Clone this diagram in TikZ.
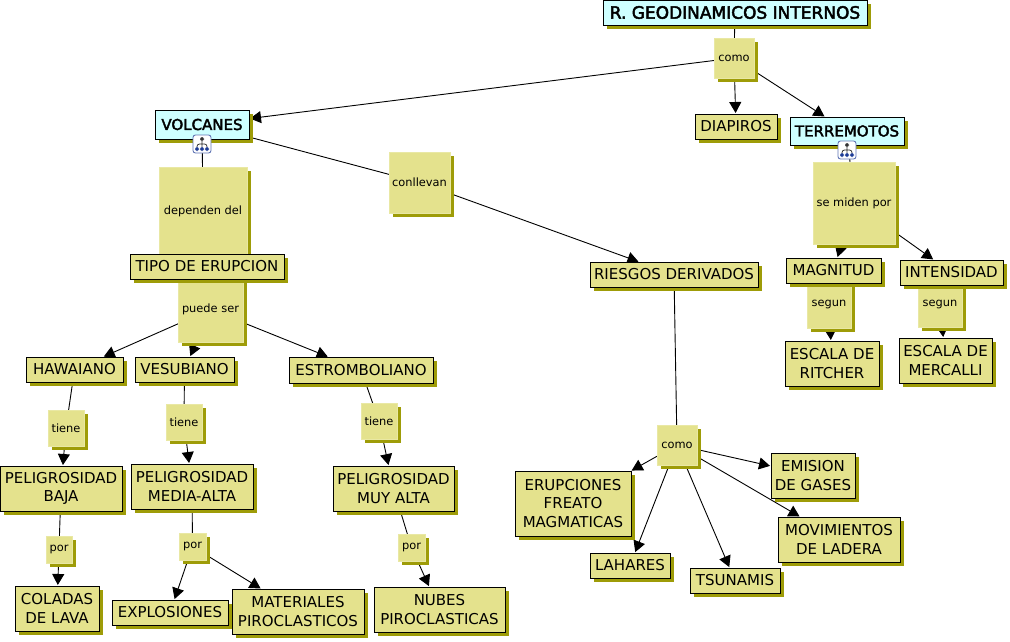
\documentclass[tikz,border=0pt]{standalone}
\usepackage{fontspec}
\setmainfont{DejaVu Sans}
\newfontfamily\heavyfont[FakeBold=2.6]{DejaVu Sans}
\usepackage{xcolor}
\definecolor{cmfill}{RGB}{228,226,141}
\definecolor{cmshade}{RGB}{158,156,8}
\definecolor{cmcyan}{RGB}{206,255,255}
\definecolor{cmicon}{RGB}{30,60,150}
\usetikzlibrary{arrows.meta,positioning,backgrounds,shadows}
\tikzset{
  concept/.style={draw=black,line width=0.9pt,fill=cmfill,align=center,inner sep=0pt,outer sep=0pt,font=\fontsize{15}{18.7}\selectfont,drop shadow={shadow xshift=4pt,shadow yshift=-4pt,fill=cmshade,opacity=1}},
  keyconcept/.style={concept,fill=cmcyan,font=\fontsize{15}{18.7}\heavyfont},
  linkbox/.style={fill=cmfill,draw=cmfill!80!white,line width=0.5pt,align=center,inner sep=0pt,outer sep=0pt,font=\fontsize{11.4}{14}\selectfont,drop shadow={shadow xshift=4pt,shadow yshift=-4pt,fill=cmshade,opacity=1}},
  iconbox/.style={draw=cmicon!70,fill=white,rounded corners=2.5pt,line width=0.9pt,minimum size=18pt,inner sep=0pt,outer sep=0pt,path picture={
    \begin{scope}[shift={(path picture bounding box.center)}]
      \draw[black!80,line width=0.8pt] (0,-3) -- (0,3) (-5,3) -- (-5,0) -- (5,0) -- (5,3);
      \fill[black!80] (-2,-7) rectangle (2,-3);
      \fill[cmicon] (-7,3) rectangle (-3,7) (-2,3) rectangle (2,7) (3,3) rectangle (7,7);
    \end{scope}}},
  link/.style={draw=black,line width=0.9pt,shorten <=4pt},
  flow/.style={link,-{Triangle[length=11pt,width=12pt]},shorten >=1pt},
}
\begin{document}
\begin{tikzpicture}[x=1pt,y=-1pt]
\useasboundingbox (0,0) rectangle (1010,641);
\node[keyconcept,minimum width=264pt,minimum height=25pt,font=\fontsize{17}{20}\heavyfont] (root) at (735,12.5) {R. GEODINAMICOS INTERNOS};
\node[linkbox,minimum size=40pt,below=13pt of root,xshift=-1pt] (como) {como};
\node[concept,minimum width=82pt,minimum height=25pt,below=36pt of como,xshift=2pt] (diapiros) {DIAPIROS};
\node[keyconcept,minimum width=114pt,minimum height=28pt,below right=39pt and 36pt of como] (terremotos) {TERREMOTOS};
\node[iconbox,below=-4pt of terremotos] (terricon) {};
\node[linkbox,minimum size=82pt,below=17pt of terremotos,xshift=7pt] (miden) {se miden por};
\node[linkbox,minimum width=44pt,minimum height=48pt,below=36pt of miden,xshift=-25pt] (segunm) {segun};
\node[concept,minimum width=95pt,minimum height=25pt,above=-3pt of segunm,xshift=4.5pt] (magnitud) {MAGNITUD};
\node[linkbox,minimum width=44pt,minimum height=46pt,right=67pt of segunm] (segunt) {segun};
\node[concept,minimum width=103pt,minimum height=25pt,above=-4pt of segunt,xshift=11.5pt] (intensidad) {INTENSIDAD};
\node[concept,minimum width=94pt,minimum height=45pt,below=13pt of segunm,xshift=3pt] (ritcher) {ESCALA DE\\RITCHER};
\node[concept,minimum width=93pt,minimum height=45pt,below=11pt of segunt,xshift=5.5pt] (mercalli) {ESCALA DE\\MERCALLI};
\node[keyconcept,minimum width=94pt,minimum height=29pt,left=446pt of diapiros,yshift=2pt] (volcanes) {VOLCANES};
\node[iconbox,below=-4pt of volcanes] (volcicon) {};
\node[linkbox,minimum size=88pt,below=28pt of volcanes,xshift=1pt] (dependen) {dependen del};
\node[linkbox,minimum size=65pt,below=22pt of dependen,xshift=7.5pt] (puede) {puede ser};
\node[concept,minimum width=154pt,minimum height=25pt,above=-2pt of puede,xshift=-3.5pt] (tipo) {TIPO DE ERUPCION};
\node[linkbox,minimum size=61pt,right=140pt of volcanes,yshift=-58pt] (conllevan) {conllevan};
\node[concept,minimum width=168pt,minimum height=25pt,below right=49pt and 140pt of conllevan] (riesgos) {RIESGOS DERIVADOS};
\node[linkbox,minimum size=40pt,below=138pt of riesgos,xshift=3pt] (comor) {como};
\node[concept,minimum width=116pt,minimum height=65pt,below left=6pt and 26pt of comor] (erupciones) {ERUPCIONES\\FREATO\\MAGMATICAS};
\node[concept,minimum width=84pt,minimum height=45pt,right=74pt of comor,yshift=-30.5pt] (emision) {EMISION\\DE GASES};
\node[concept,minimum width=80pt,minimum height=25pt,below=88pt of comor,xshift=-47pt] (lahares) {LAHARES};
\node[concept,minimum width=90pt,minimum height=25pt,below=103pt of comor,xshift=58pt] (tsunamis) {TSUNAMIS};
\node[concept,minimum width=122pt,minimum height=45pt,below right=52pt and 81pt of comor] (movimientos) {MOVIMIENTOS\\DE LADERA};
\node[concept,minimum width=97pt,minimum height=25pt,below left=15pt and 55pt of puede] (hawaiano) {HAWAIANO};
\node[concept,minimum width=99pt,minimum height=25pt,below=15pt of puede,xshift=-26pt] (vesubiano) {VESUBIANO};
\node[concept,minimum width=144pt,minimum height=26pt,below right=15pt and 46pt of puede] (estromboliano) {ESTROMBOLIANO};
\node[linkbox,minimum size=36pt,below=28pt of hawaiano,xshift=-8.5pt] (tieneh) {tiene};
\node[linkbox,minimum size=36pt,below=22pt of vesubiano,xshift=-0.5pt] (tienev) {tiene};
\node[linkbox,minimum size=36pt,below=20pt of estromboliano,xshift=18pt] (tienee) {tiene};
\node[concept,minimum width=122pt,minimum height=45pt,below=20pt of tieneh,xshift=-5pt] (pelibaja) {PELIGROSIDAD\\BAJA};
\node[concept,minimum width=122pt,minimum height=45pt,below=24pt of tienev,xshift=8pt] (pelimedia) {PELIGROSIDAD\\MEDIA-ALTA};
\node[concept,minimum width=121pt,minimum height=45pt,below=27pt of tienee,xshift=14.5pt] (pelialta) {PELIGROSIDAD\\MUY ALTA};
\node[linkbox,minimum width=26pt,minimum height=27pt,below=25pt of pelibaja,xshift=-2pt] (porb) {por};
\node[linkbox,minimum size=27pt,below=24pt of pelimedia,xshift=0.5pt] (porm) {por};
\node[linkbox,minimum size=27pt,below=23pt of pelialta,xshift=18pt] (pora) {por};
\node[concept,minimum width=84pt,minimum height=45pt,below=23pt of porb,xshift=-2pt] (coladas) {COLADAS\\DE LAVA};
\node[concept,minimum width=116pt,minimum height=25pt,below=40pt of porm,xshift=-22.5pt] (explosiones) {EXPLOSIONES};
\node[concept,minimum width=132pt,minimum height=45pt,below right=29pt and 26pt of porm] (materiales) {MATERIALES\\PIROCLASTICOS};
\node[concept,minimum width=131pt,minimum height=45pt,below=26pt of pora,xshift=28pt] (nubes) {NUBES\\PIROCLASTICAS};
\begin{scope}[on background layer]
\draw[link] (root) -- (como);
\draw[flow,shorten <=0pt] (como) -- (volcanes);
\draw[flow] (como) -- (diapiros);
\draw[flow] (como) -- (terremotos);
\draw[link] (terremotos) -- (miden);
\draw[flow] (miden) -- (magnitud);
\draw[flow] (miden) -- (intensidad);
\draw[link] (magnitud) -- (segunm);
\draw[link] (intensidad) -- (segunt);
\draw[flow] (segunm) -- (ritcher);
\draw[flow] (segunt) -- (mercalli);
\draw[link] (volcanes) -- (dependen);
\draw[link] (dependen) -- (tipo);
\draw[link] (tipo) -- (puede);
\draw[link] (volcanes) -- (conllevan);
\draw[flow] (conllevan) -- (riesgos);
\draw[link] (riesgos) -- (comor);
\draw[flow,shorten <=0pt] (comor) -- (erupciones);
\draw[flow] (comor) -- (emision);
\draw[flow] (comor) -- (lahares);
\draw[flow] (comor) -- (tsunamis);
\draw[flow] (comor) -- (movimientos);
\draw[flow,shorten <=0pt] (puede) -- (hawaiano);
\draw[flow] (puede) -- (vesubiano);
\draw[flow] (puede) -- (estromboliano);
\draw[link] (hawaiano) -- (tieneh);
\draw[link] (vesubiano) -- (tienev);
\draw[link] (estromboliano) -- (tienee);
\draw[flow] (tieneh) -- (pelibaja);
\draw[flow] (tienev) -- (pelimedia);
\draw[flow] (tienee) -- (pelialta);
\draw[link] (pelibaja) -- (porb);
\draw[link] (pelimedia) -- (porm);
\draw[link] (pelialta) -- (pora);
\draw[flow] (porb) -- (coladas);
\draw[flow] (porm) -- (explosiones);
\draw[flow] (porm) -- (materiales);
\draw[flow] (pora) -- (nubes);
\end{scope}
\end{tikzpicture}
\end{document}
